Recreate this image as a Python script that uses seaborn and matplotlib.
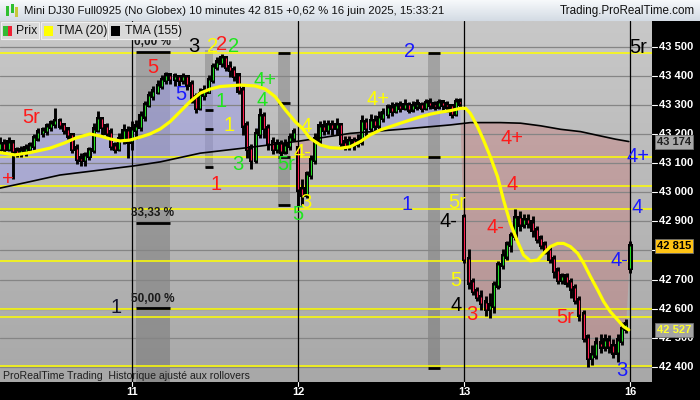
import numpy as np
import pandas as pd
import matplotlib
matplotlib.use("Agg")
import matplotlib.pyplot as plt
import seaborn as sns
from matplotlib.colors import LinearSegmentedColormap
from matplotlib import transforms
from matplotlib.patches import Rectangle

sns.set_style("white")
plt.rcParams["font.family"] = ["Liberation Sans", "DejaVu Sans"]

# ---------------- Mini DJ30 Full0925, 10-minute bars ----------------
close = [43165, 43150, 43170, 43140, 43135, 43140, 43150, 43160, 43185, 43205,
         43210, 43225, 43235, 43245, 43230, 43215, 43195, 43150, 43115, 43110,
         43125, 43145, 43215, 43250, 43225, 43205, 43160, 43150, 43180, 43210,
         43175, 43215, 43225, 43260, 43300, 43330, 43345, 43365, 43385, 43400,
         43390, 43395, 43385, 43395, 43370, 43325, 43290, 43335, 43345, 43385,
         43430, 43445, 43460, 43430, 43420, 43400, 43350, 43230, 43150, 43110,
         43200, 43260, 43220, 43170, 43150, 43165, 43140, 43160, 43185, 43205,
         43010, 42990, 43060, 43110, 43180, 43225, 43215, 43230, 43220, 43230,
         43170, 43160, 43175, 43165, 43175, 43240, 43220, 43245, 43230, 43255,
         43270, 43290, 43280, 43295, 43290, 43300, 43285, 43295, 43300, 43290,
         43305, 43300, 43295, 43305, 43300, 43295, 43270, 43310, 43305, 42770,
         42690, 42660, 42640, 42620, 42600, 42610, 42680, 42750, 42780, 42820,
         42850, 42910, 42890, 42905, 42895, 42870, 42840, 42820, 42800, 42770,
         42730, 42700, 42710, 42690, 42670, 42630, 42580, 42500, 42430, 42440,
         42480, 42470, 42490, 42470, 42450, 42490, 42530, 42545, 42815]
high = [43185, 43180, 43185, 43165, 43150, 43155, 43160, 43170, 43195, 43215,
        43220, 43235, 43245, 43285, 43250, 43235, 43220, 43200, 43160, 43130,
        43135, 43150, 43235, 43275, 43255, 43235, 43215, 43170, 43200, 43230,
        43225, 43240, 43245, 43275, 43310, 43345, 43360, 43380, 43400, 43410,
        43405, 43405, 43400, 43405, 43400, 43380, 43335, 43355, 43365, 43400,
        43440, 43460, 43472, 43465, 43445, 43430, 43405, 43360, 43240, 43160,
        43215, 43285, 43270, 43230, 43185, 43180, 43175, 43180, 43200, 43215,
        43150, 43040, 43070, 43125, 43200, 43240, 43245, 43245, 43245, 43250,
        43235, 43190, 43190, 43185, 43195, 43260, 43250, 43265, 43260, 43275,
        43285, 43300, 43305, 43305, 43310, 43315, 43305, 43310, 43315, 43305,
        43315, 43320, 43310, 43315, 43310, 43310, 43300, 43320, 43320, 42920,
        42800, 42700, 42670, 42660, 42640, 42650, 42690, 42760, 42800, 42830,
        42860, 42938, 42930, 42920, 42920, 42915, 42880, 42850, 42830, 42810,
        42780, 42740, 42720, 42720, 42700, 42680, 42640, 42590, 42510, 42470,
        42500, 42510, 42510, 42505, 42490, 42510, 42550, 42560, 42830]
low = [43140, 43140, 43145, 43050, 43125, 43125, 43130, 43145, 43150, 43180,
       43195, 43200, 43215, 43225, 43220, 43205, 43185, 43140, 43100, 43095,
       43095, 43115, 43140, 43210, 43200, 43190, 43150, 43140, 43145, 43170,
       43120, 43150, 43185, 43215, 43250, 43295, 43320, 43340, 43360, 43375,
       43375, 43370, 43370, 43375, 43355, 43310, 43275, 43285, 43320, 43345,
       43380, 43425, 43435, 43420, 43400, 43385, 43340, 43200, 43120, 43085,
       43105, 43190, 43190, 43150, 43135, 43140, 43130, 43135, 43150, 43180,
       42955, 42960, 42985, 43050, 43100, 43170, 43200, 43205, 43200, 43200,
       43155, 43150, 43150, 43150, 43160, 43165, 43195, 43215, 43215, 43220,
       43245, 43260, 43265, 43275, 43280, 43285, 43275, 43280, 43285, 43280,
       43285, 43290, 43285, 43290, 43285, 43280, 43260, 43265, 43295, 42760,
       42670, 42650, 42630, 42600, 42580, 42571, 42590, 42670, 42740, 42770,
       42800, 42840, 42870, 42880, 42880, 42850, 42830, 42810, 42790, 42760,
       42710, 42690, 42690, 42680, 42640, 42620, 42560, 42490, 42405, 42410,
       42430, 42450, 42460, 42450, 42435, 42420, 42480, 42520, 42725]
session_open = {0: 43150, 70: 43150, 109: 42915, 148: 42740}

day_bars = [31, 70, 109, 148]
day_labels = ["11", "12", "13", "16"]

# Triangular moving averages
tma20_bar = [0, 3.5, 7, 11.7, 15.3, 17.6, 21.1, 23.5, 25.8, 28.2, 30.5, 32.9, 35.2,
             37.6, 39.9, 42.3, 44.6, 47, 49.3, 51.7, 56.4, 59.9, 62.3, 64.6, 67,
             69.3, 71, 72.8, 75.2, 77.5, 79.9, 82.2, 84.6, 86.9, 89.3, 91.6, 94,
             96.3, 98.7, 101, 103.4, 105.7, 108.1, 109.3, 110.4, 112.1, 113.5,
             115.1, 116.8, 118.2, 119.8, 121.5, 122.9, 124.5, 126.2, 127.6, 129.2,
             130.9, 132.3, 133.9, 135.6, 137, 138.6, 140.3, 141.7, 143.3, 145,
             146.4, 147.6]
tma20_val = [43136, 43128, 43136, 43151, 43170, 43185, 43200, 43193, 43183, 43176,
             43179, 43189, 43200, 43217, 43242, 43277, 43311, 43340, 43354, 43363,
             43368, 43365, 43354, 43328, 43282, 43242, 43219, 43185, 43162, 43153,
             43151, 43156, 43174, 43197, 43214, 43225, 43237, 43248, 43259, 43268,
             43275, 43280, 43288, 43288, 43271, 43225, 43179, 43122, 43053, 42973,
             42893, 42830, 42784, 42764, 42767, 42790, 42813, 42824, 42824, 42813,
             42790, 42756, 42710, 42664, 42624, 42589, 42561, 42538, 42527]
tma155_bar = [0, 7, 14.1, 23.5, 31.3, 37.6, 47, 58.7, 70.5, 82.2, 94, 105.7,
              110.4, 117.5, 122.2, 126.9, 131.6, 136.3, 141, 144.5, 147.6]
tma155_val = [43014, 43036, 43059, 43076, 43090, 43104, 43134, 43154, 43176, 43202,
              43216, 43231, 43239, 43239, 43237, 43228, 43216, 43208, 43193, 43182,
              43174]

grid_levels = [42400, 42500, 42600, 42700, 42800, 42900, 43000, 43100, 43200,
               43300, 43400, 43500]
grid_labels = ["42 400", "42 500", "42 600", "42 700", "", "42 900", "43 000",
               "43 100", "43 200", "43 300", "43 400", "43 500"]
yellow_levels = [43479, 43121, 43021, 42941, 42762, 42599, 42572, 42403]

fib_levels = [43483, 42895, 42601]
fib_labels = ["0,00 %", "33,33 %", "50,00 %"]

RED, GRN, YEL, BLU, BLK = "#ff1a1a", "#1ee61e", "#ffff00", "#1a1aff", "#000000"
waves = [
    (1.9, 43042, "+", RED), (7.3, 43255, "5r", RED), (35.9, 43427, "5", RED),
    (42.5, 43334, "5", BLU), (51.9, 43310, "1", GRN), (53.8, 43228, "1", YEL),
    (55.9, 43094, "3", GRN), (50.7, 43028, "1", RED), (45.5, 43499, "3", BLK),
    (49.8, 43499, "2", YEL), (52.1, 43506, "2", RED), (54.9, 43499, "2", GRN),
    (62.2, 43384, "4+", GRN), (61.5, 43316, "4", GRN), (67.1, 43094, "5r", GRN),
    (70.0, 42922, "5", GRN), (71.8, 43224, "4", YEL), (71.1, 43135, "4-", YEL),
    (71.8, 42966, "3", YEL), (96.2, 43482, "2", BLU), (88.7, 43317, "4+", YEL),
    (95.5, 42956, "1", BLU), (107.3, 42963, "5r", YEL), (105.2, 42898, "4-", BLK),
    (120.2, 43186, "4+", RED), (120.2, 43025, "4", RED), (116.4, 42880, "4-", RED),
    (107.0, 42695, "5", YEL), (107.0, 42612, "4", BLK), (110.8, 42581, "3", RED),
    (132.6, 42571, "5r", RED), (146.0, 42389, "3", BLU), (149.8, 43121, "4+", BLU),
    (149.5, 42946, "4", BLU), (145.3, 42764, "4-", BLU), (149.8, 43496, "5r", BLK),
    (27.2, 42605, "1", "#10102a"),
]

# shaded time zones: (bar from, bar to, price top, price bottom, marker levels)
zones = [
    (31.9, 39.9, 43483, 42348, [43483, 42895, 42601]),
    (48.1, 50.0, 43489, 43083, [43282, 43217, 43087]),
    (65.3, 68.1, 43478, 42956, [43478, 43307, 43121, 42956]),
    (100.5, 103.3, 43478, 42396, [43478, 43121, 42396]),
]

# ---------------- figure layout ----------------
W, H = 700, 400
X0, X1 = 0.0, 153.05
Y0, Y1 = 42348, 43588
fig = plt.figure(figsize=(7, 4), dpi=100)
fig.patch.set_facecolor("black")


def fpx(x, y):
    return x / W, 1 - y / H


ax = fig.add_axes([0, 18 / H, 652 / W, 361 / H])
ax.set_axis_off()

bg = LinearSegmentedColormap.from_list("bg", ["#a8a8a8", "#c8c8c8"])
ax.imshow(np.linspace(0, 1, 256).reshape(-1, 1)[::-1], extent=[X0, X1, Y0, Y1],
          aspect="auto", cmap=bg, zorder=0, interpolation="bilinear")

df = pd.DataFrame({"close": close, "high": high, "low": low})
df["bar"] = np.arange(len(df))
df["open"] = df["close"].shift(1)
for b, o in session_open.items():
    df.loc[b, "open"] = o

# fill between price and long average
t155 = np.interp(df["bar"], tma155_bar, tma155_val)
ax.fill_between(df["bar"], df["close"], t155, where=df["close"] >= t155,
                interpolate=True, color="#9a9ae8", alpha=0.5, lw=0, zorder=1.5)
ax.fill_between(df["bar"], df["close"], t155, where=df["close"] < t155,
                interpolate=True, color="#c87474", alpha=0.38, lw=0, zorder=1.5)

for lv in grid_levels:
    ax.axhline(lv, color="#858585", lw=0.9, zorder=2)
for lv in yellow_levels:
    ax.axhline(lv, color="#ffff00", lw=1.1, zorder=2.5)

for b0, b1, top, bot, marks in zones:
    ax.add_patch(Rectangle((b0, bot), b1 - b0, top - bot, color="black", alpha=0.17,
                           lw=0, zorder=1.2))
    for m in marks:
        ax.plot([b0, b1], [m, m], color="black", lw=2.0, zorder=3, solid_capstyle="butt")

for b in day_bars:
    ax.axvline(b, color="black", lw=0.9, zorder=3)

# candles
up = df["close"] >= df["open"]
body_lo = df[["open", "close"]].min(axis=1)
body_hi = df[["open", "close"]].max(axis=1)
ax.vlines(df["bar"], df["low"] - 4, df["high"] + 4, color="black", lw=2.1, zorder=4)
ax.bar(df["bar"], (body_hi - body_lo).clip(lower=8) + 16, bottom=body_lo - 8,
       width=0.98, color="black", lw=0, zorder=4.1)
ax.vlines(df["bar"], body_lo, body_hi, colors=np.where(up, "#22dd22", "#ff2050"),
          lw=0.8, zorder=4.2)

sns.lineplot(x=tma155_bar, y=tma155_val, ax=ax, color="black", lw=1.2, zorder=5)
sns.lineplot(x=tma20_bar, y=tma20_val, ax=ax, color="#ffff00", lw=2.3, zorder=5.5)

for b, p, s, c in waves:
    ax.text(b, p, s, color=c, fontsize=14.5, ha="center", va="center", zorder=7,
            clip_on=False)

for lv, lab in zip(fib_levels, fib_labels):
    ax.text(35.9, lv + 12, lab, fontsize=8.5, fontweight="bold", color="#1a1a1a",
            ha="center", va="bottom", zorder=7)

ax.text(0.6, Y0 + 22, "ProRealTime Trading  Historique ajusté aux rollovers",
        fontsize=7.6, color="#1e1e1e", ha="left", va="center", zorder=7)

ax.set_xlim(X0, X1)
ax.set_ylim(Y0, Y1)

# ---------------- price and time scales ----------------
yblend = transforms.blended_transform_factory(fig.transFigure, ax.transData)
for lv, lab in zip(grid_levels, grid_labels):
    ax.plot([652 / W, 657 / W], [lv, lv], transform=yblend, color="white", lw=0.8,
            clip_on=False, zorder=8)
    if lab:
        ax.text(659 / W, lv, lab, transform=yblend, color="white", fontsize=8,
                fontweight="bold", ha="left", va="center", clip_on=False, zorder=8)

price_tags = [(43174, "43 174", "#a9a9a9", "#202020"),
              (42815, "42 815", "#ffc314", "#000000"),
              (42527, "42 527", "#a4a4a4", "#ffff30")]
for lv, lab, fc, tc in price_tags:
    ax.text(657 / W, lv, lab, transform=yblend, color=tc, fontsize=8,
            fontweight="bold", ha="left", va="center", clip_on=False, zorder=9,
            bbox=dict(boxstyle="square,pad=0.18", fc=fc, ec="#707070", lw=0.6))

xblend = transforms.blended_transform_factory(ax.transData, fig.transFigure)
for b, lab in zip(day_bars, day_labels):
    ax.plot([b, b], [18 / H, 14 / H], transform=xblend, color="white", lw=0.8,
            clip_on=False, zorder=8)
    ax.text(b, 8 / H, lab, transform=xblend, color="white", fontsize=8,
            fontweight="bold", ha="center", va="center", clip_on=False, zorder=8)

# ---------------- title bar ----------------
tax = fig.add_axes([0, 379 / H, 1, 21 / H])
tax.set_axis_off()
tbar = LinearSegmentedColormap.from_list("tbar", ["#d3dbe4", "#f7f9fb"])
tax.imshow(np.linspace(0, 1, 64).reshape(-1, 1)[::-1], extent=[0, 1, 0, 1],
           aspect="auto", cmap=tbar, interpolation="bilinear")
tax.set_xlim(0, 1)
tax.set_ylim(0, 1)
for cx, y0, y1, col in [(7, 6, 16, "#2fbf2f"), (12, 4, 13, "#2fbf2f"), (17, 7, 17, "#c7c73a")]:
    tax.add_patch(Rectangle(((cx - 1.5) / W, 1 - y1 / 21), 3 / W, (y1 - y0) / 21,
                            color=col, lw=0))
fig.text(24 / W, 1 - 11 / H,
         "Mini DJ30 Full0925 (No Globex) 10 minutes 42 815 +0,62 % 16 juin 2025, 15:33:21",
         fontsize=8.2, color="#111111", ha="left", va="center")
fig.text(695 / W, 1 - 11 / H, "Trading.ProRealTime.com", fontsize=8.4,
         color="#111111", ha="right", va="center")

# ---------------- legend ----------------
leg_boxes = [(1, 39), (41, 106), (108, 178)]
for x0, x1 in leg_boxes:
    fig.patches.append(Rectangle(fpx(x0, 39), (x1 - x0) / W, 17 / H,
                                 transform=fig.transFigure, fc="#d9d9d9",
                                 ec="#efefef", lw=0.8, zorder=10))
swatches = [(3, "#33bb33"), (7.5, "#ee2233")]
for sx, col in swatches:
    fig.patches.append(Rectangle(fpx(sx, 36), 4.5 / W, 10 / H, transform=fig.transFigure,
                                 fc=col, lw=0, zorder=11))
fig.patches.append(Rectangle(fpx(44, 36), 9 / W, 10 / H, transform=fig.transFigure,
                             fc="#ffff00", lw=0, zorder=11))
fig.patches.append(Rectangle(fpx(111, 36), 9 / W, 10 / H, transform=fig.transFigure,
                             fc="#000000", lw=0, zorder=11))
for tx, lab in [(16, "Prix"), (57, "TMA (20)"), (125, "TMA (155)")]:
    fig.text(tx / W, 1 - 31 / H, lab, fontsize=8.8, color="#111111", ha="left",
             va="center", zorder=12)

fig.savefig("out.png", dpi=100, facecolor="black")
